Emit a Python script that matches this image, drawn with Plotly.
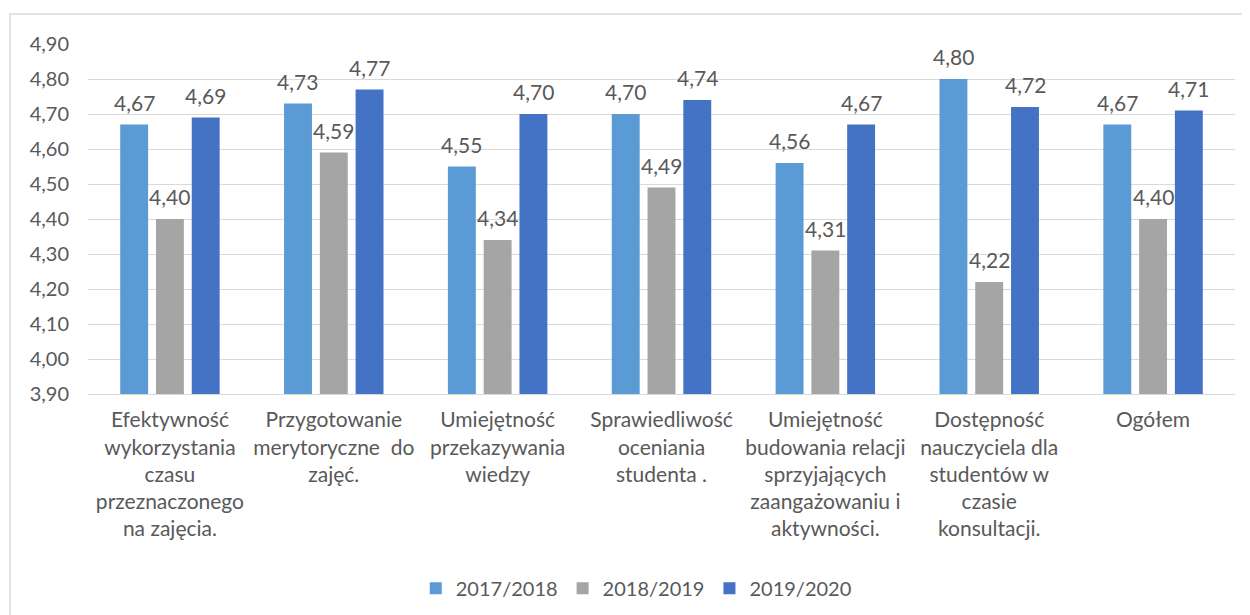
import plotly.graph_objects as go

categories = [
    "Efektywność<br>wykorzystania<br>czasu<br>przeznaczonego<br>na zajęcia.",
    "Przygotowanie<br>merytoryczne  do<br>zajęć.",
    "Umiejętność<br>przekazywania<br>wiedzy",
    "Sprawiedliwość<br>oceniania<br>studenta .",
    "Umiejętność<br>budowania relacji<br>sprzyjających<br>zaangażowaniu i<br>aktywności.",
    "Dostępność<br>nauczyciela dla<br>studentów w<br>czasie<br>konsultacji.",
    "Ogółem",
]
series_names = ["2017/2018", "2018/2019", "2019/2020"]
values_2017 = [4.67, 4.73, 4.55, 4.70, 4.56, 4.80, 4.67]
values_2018 = [4.40, 4.59, 4.34, 4.49, 4.31, 4.22, 4.40]
values_2019 = [4.69, 4.77, 4.70, 4.74, 4.67, 4.72, 4.71]
y_ticks = [3.9, 4.0, 4.1, 4.2, 4.3, 4.4, 4.5, 4.6, 4.7, 4.8, 4.9]
colors = ["#5B9BD5", "#A5A5A5", "#4472C4"]

text_color = "#595959"
font_family = "Lato, Noto Sans, sans-serif"

fig = go.Figure()
all_values = [values_2017, values_2018, values_2019]
for name, vals, col in zip(series_names, all_values, colors):
    fig.add_trace(go.Bar(
        x=categories,
        y=vals,
        name=name,
        marker=dict(color=col, line=dict(width=0)),
    ))

# value labels a little above each bar (slot width ~36px within a group)
for k, vals in enumerate(all_values):
    for cat, v in zip(categories, vals):
        fig.add_annotation(
            x=cat, y=v, text=f"{v:.2f}".replace(".", ","),
            showarrow=False, yanchor="bottom", yshift=8, xshift=(k - 1) * 35.8,
            font=dict(size=21, color=text_color),
        )

# page body adds an 8px offset, so the figure is 8px smaller than the window
fig.update_layout(
    width=1242,
    height=607,
    barmode="group",
    bargap=0.345,
    bargroupgap=0.22,
    separators=", ",
    paper_bgcolor="white",
    plot_bgcolor="white",
    font=dict(family=font_family, size=19, color=text_color),
    margin=dict(l=80, r=15, t=36, b=221, autoexpand=False),
    showlegend=True,
    legend=dict(
        orientation="h",
        x=0.478,
        xanchor="center",
        y=-0.555,
        yanchor="middle",
        font=dict(size=20, color=text_color),
        traceorder="normal",
    ),
    xaxis=dict(
        automargin=False,
        showline=True,
        linecolor="#D9D9D9",
        linewidth=1,
        ticks="",
        ticklabelstandoff=7,
        tickfont=dict(size=21, color=text_color),
    ),
    yaxis=dict(
        automargin=False,
        range=[3.9, 4.9],
        tickvals=y_ticks,
        tickformat=".2f",
        showgrid=True,
        gridcolor="#D9D9D9",
        zeroline=False,
        showline=False,
        ticks="",
        ticklabelstandoff=18,
        tickfont=dict(size=20, color=text_color),
    ),
)

fig.add_shape(
    type="rect", xref="paper", yref="paper",
    x0=-0.068, x1=1.2, y0=-1.0, y1=1.0857,
    line=dict(color="#D9D9D9", width=1.5),
    layer="below",
)

fig.write_html("out.html")
